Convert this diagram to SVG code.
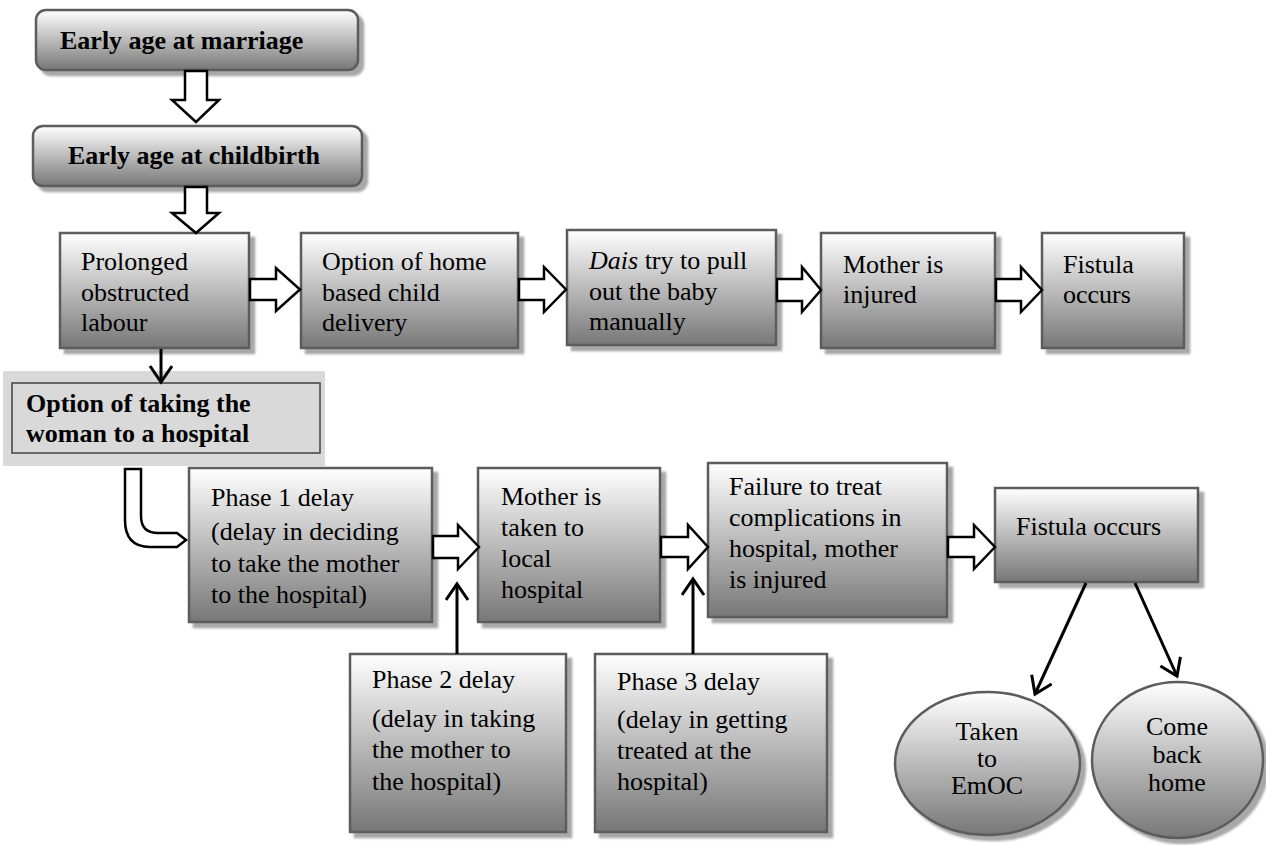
<svg xmlns="http://www.w3.org/2000/svg" width="1266" height="845" viewBox="0 0 1266 845">
<defs>
<linearGradient id="g" x1="0" y1="0" x2="0" y2="1">
<stop offset="0" stop-color="#ffffff"/>
<stop offset="1" stop-color="#777777"/>
</linearGradient>
<filter id="sh" x="-10%" y="-10%" width="130%" height="130%">
<feDropShadow dx="5" dy="5" stdDeviation="1" flood-color="#8a8a8a" flood-opacity="0.75"/>
</filter>
<marker id="v" markerUnits="userSpaceOnUse" markerWidth="30" markerHeight="30" viewBox="0 0 30 30" refX="18" refY="12" orient="auto">
<path d="M2,1 L18,12 L2,23" fill="none" stroke="#000" stroke-width="3"/>
</marker>
<style>
.box{fill:url(#g);stroke:#5c5c5c;stroke-width:2.5;filter:url(#sh)}
.t{font-family:"Liberation Serif","Times New Roman",serif;font-size:26px;fill:#000}
.b{font-weight:bold}
.blk{fill:#fff;stroke:#000;stroke-width:2.5;stroke-linejoin:miter}
.ln{stroke:#000;stroke-width:3;fill:none}
</style>
</defs>

<g id="n-marriage">
<rect class="box" x="36" y="10" width="322" height="60" rx="10"/>
<text class="t b" x="60" y="49">Early age at marriage</text>
</g>
<g id="n-childbirth">
<rect class="box" x="33" y="126" width="329" height="60" rx="10"/>
<text class="t b" x="68" y="164">Early age at childbirth</text>
</g>

<g id="n-prolonged">
<rect class="box" x="60" y="233" width="189" height="115"/>
<text class="t" x="81" y="270">Prolonged</text>
<text class="t" x="81" y="301">obstructed</text>
<text class="t" x="81" y="331">labour</text>
</g>
<g id="n-home">
<rect class="box" x="301" y="233" width="217" height="115"/>
<text class="t" x="322" y="270">Option of home</text>
<text class="t" x="322" y="301">based child</text>
<text class="t" x="322" y="331">delivery</text>
</g>
<g id="n-dais">
<rect class="box" x="567" y="230" width="209" height="115"/>
<text class="t" x="589" y="269"><tspan font-style="italic">Dais</tspan> try to pull</text>
<text class="t" x="589" y="300">out the baby</text>
<text class="t" x="589" y="330">manually</text>
</g>
<g id="n-injured1">
<rect class="box" x="821" y="233" width="174" height="115"/>
<text class="t" x="843" y="273">Mother is</text>
<text class="t" x="843" y="303">injured</text>
</g>
<g id="n-fistula1">
<rect class="box" x="1042" y="233" width="142" height="115"/>
<text class="t" x="1063" y="273">Fistula</text>
<text class="t" x="1063" y="303">occurs</text>
</g>

<g id="n-hospital-option">
<rect x="3" y="371" width="322" height="95" fill="#d9d9d9"/>
<rect x="12" y="383" width="308" height="70" fill="#d9d9d9" stroke="#404040" stroke-width="1.5"/>
<text class="t b" x="26" y="412">Option of taking the</text>
<text class="t b" x="26" y="442">woman to a hospital</text>
</g>

<g id="n-phase1">
<rect class="box" x="189" y="468" width="243" height="154"/>
<text class="t" x="211" y="506">Phase 1 delay</text>
<text class="t" x="211" y="540">(delay in deciding</text>
<text class="t" x="211" y="572">to take the mother</text>
<text class="t" x="211" y="603">to the hospital)</text>
</g>
<g id="n-taken">
<rect class="box" x="478" y="468" width="182" height="154"/>
<text class="t" x="501" y="505">Mother is</text>
<text class="t" x="501" y="536">taken to</text>
<text class="t" x="501" y="567">local</text>
<text class="t" x="501" y="598">hospital</text>
</g>
<g id="n-failure">
<rect class="box" x="708" y="463" width="239" height="154"/>
<text class="t" x="729" y="495">Failure to treat</text>
<text class="t" x="729" y="526">complications in</text>
<text class="t" x="729" y="557">hospital, mother</text>
<text class="t" x="729" y="588">is injured</text>
</g>
<g id="n-fistula2">
<rect class="box" x="995" y="488" width="203" height="94"/>
<text class="t" x="1016" y="535">Fistula occurs</text>
</g>

<g id="n-phase2">
<rect class="box" x="350" y="654" width="216" height="178"/>
<text class="t" x="372" y="688">Phase 2 delay</text>
<text class="t" x="372" y="727">(delay in taking</text>
<text class="t" x="372" y="758">the mother to</text>
<text class="t" x="372" y="790">the hospital)</text>
</g>
<g id="n-phase3">
<rect class="box" x="595" y="654" width="232" height="178"/>
<text class="t" x="617" y="690">Phase 3 delay</text>
<text class="t" x="617" y="728">(delay in getting</text>
<text class="t" x="617" y="759">treated at the</text>
<text class="t" x="617" y="790">hospital)</text>
</g>

<g id="n-emoc">
<ellipse class="box" cx="987.5" cy="763.5" rx="92.5" ry="71.5" stroke-width="2"/>
<text class="t" x="987" y="740" text-anchor="middle">Taken</text>
<text class="t" x="987" y="767" text-anchor="middle">to</text>
<text class="t" x="987" y="794" text-anchor="middle">EmOC</text>
</g>
<g id="n-home2">
<ellipse class="box" cx="1177.5" cy="760" rx="85.5" ry="78" stroke-width="2"/>
<text class="t" x="1177" y="735" text-anchor="middle">Come</text>
<text class="t" x="1177" y="763" text-anchor="middle">back</text>
<text class="t" x="1177" y="791" text-anchor="middle">home</text>
</g>

<g id="connectors">
<path class="blk" d="M185,71 H207 V100 H219 L196,122 L172,100 H185 Z"/>
<path class="blk" d="M185,187 H207 V213 H219 L196,233 L172,213 H185 Z"/>
<path class="blk" d="M250,279 V300 H276 V311 L300,289.5 L276,268 V279 Z"/>
<path class="blk" d="M519,279 V300 H544 V312 L566,289.5 L544,267 V279 Z"/>
<path class="blk" d="M777,279 V301 H802 V312 L821,290 L802,267 V279 Z"/>
<path class="blk" d="M996,279 V301 H1021 V312 L1042,290 L1021,267 V279 Z"/>
<path class="blk" d="M433,536 V558 H458 V569 L479,547 L458,525 V536 Z"/>
<path class="blk" d="M661,537 V557 H688 V569 L708,547 L688,525 V537 Z"/>
<path class="blk" d="M948,537 V557 H974 V569 L995,547 L974,525 V537 Z"/>
<path class="blk" d="M125,469 H141 V516 Q141,533 158,533 H177 L186,540 L177,547 H150 Q125,547 125,520 Z"/>
<line class="ln" x1="161" y1="349" x2="161" y2="382" marker-end="url(#v)"/>
<line class="ln" x1="457" y1="654" x2="457" y2="584" marker-end="url(#v)"/>
<line class="ln" x1="693" y1="654" x2="693" y2="579" marker-end="url(#v)"/>
<line class="ln" x1="1086" y1="583" x2="1035" y2="694" marker-end="url(#v)"/>
<line class="ln" x1="1135" y1="583" x2="1177" y2="676" marker-end="url(#v)"/>
</g>
</svg>
